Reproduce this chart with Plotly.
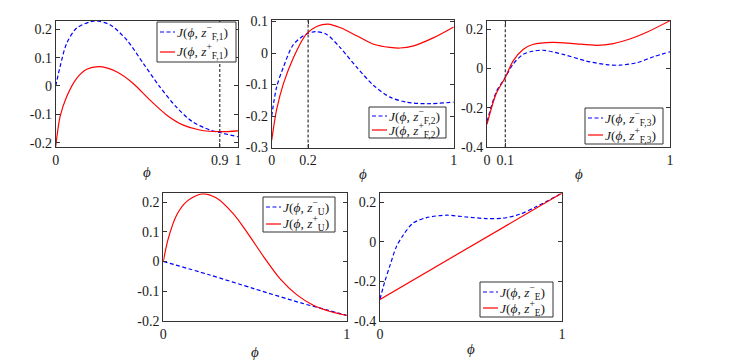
import plotly.graph_objects as go

# panel 1: z_F,1
phi1_minus = [0, 0.024, 0.06, 0.115, 0.215, 0.30, 0.39, 0.48, 0.57, 0.66, 0.75, 0.845, 0.9, 1.0]
J1_minus = [0, 0.068, 0.15, 0.204, 0.229, 0.215, 0.162, 0.08, -0.002, -0.073, -0.126, -0.155, -0.164, -0.179]
phi1_plus = [0, 0.024, 0.06, 0.115, 0.17, 0.243, 0.334, 0.425, 0.516, 0.608, 0.70, 0.79, 0.9, 1.0]
J1_plus = [-0.214, -0.108, -0.038, 0.027, 0.059, 0.068, 0.05, 0.009, -0.049, -0.102, -0.138, -0.155, -0.161, -0.158]

# panel 2: z_F,2
phi2_minus = [0, 0.027, 0.064, 0.12, 0.19, 0.24, 0.30, 0.375, 0.467, 0.56, 0.65, 0.74, 0.85, 1.0]
J2_minus = [-0.2, -0.108, -0.045, 0.028, 0.06, 0.068, 0.06, 0.018, -0.045, -0.103, -0.14, -0.156, -0.161, -0.156]
phi2_plus = [0, 0.027, 0.064, 0.12, 0.19, 0.25, 0.31, 0.375, 0.467, 0.56, 0.65, 0.705, 0.78, 0.89, 1.0]
J2_plus = [-0.277, -0.18, -0.098, -0.014, 0.06, 0.085, 0.092, 0.081, 0.055, 0.028, 0.018, 0.016, 0.023, 0.049, 0.083]

# panel 3: z_F,3
phi3_minus = [0, 0.05, 0.1, 0.142, 0.197, 0.25, 0.307, 0.416, 0.544, 0.653, 0.726, 0.82, 0.91, 1.0]
J3_minus = [-0.27, -0.12, -0.045, 0.022, 0.072, 0.088, 0.093, 0.072, 0.038, 0.02, 0.017, 0.03, 0.06, 0.085]
phi3_plus = [0, 0.05, 0.1, 0.142, 0.197, 0.25, 0.36, 0.47, 0.6, 0.69, 0.78, 0.87, 1.0]
J3_plus = [-0.283, -0.128, -0.045, 0.038, 0.097, 0.122, 0.133, 0.127, 0.118, 0.127, 0.15, 0.183, 0.243]

# panel 4: z_U
phi4_minus = [0, 0.25, 0.5, 0.75, 0.9, 1.0]
J4_minus = [0, -0.045, -0.093, -0.14, -0.165, -0.182]
phi4_plus = [0, 0.027, 0.073, 0.127, 0.21, 0.29, 0.38, 0.455, 0.545, 0.636, 0.727, 0.818, 0.91, 1.0]
J4_plus = [0, 0.077, 0.157, 0.202, 0.228, 0.214, 0.162, 0.1, 0.018, -0.058, -0.112, -0.148, -0.169, -0.182]

# panel 5: z_E
phi5_minus = [0, 0.027, 0.055, 0.09, 0.128, 0.18, 0.256, 0.366, 0.475, 0.585, 0.676, 0.768, 0.86, 1.0]
J5_minus = [-0.29, -0.2, -0.12, -0.025, 0.034, 0.093, 0.122, 0.134, 0.125, 0.117, 0.119, 0.139, 0.178, 0.246]
phi5_plus = [0, 1.0]
J5_plus = [-0.292, 0.246]

vlines = [0.9, 0.2, 0.1, None, None]
xticks = [[0, 0.9, 1], [0, 0.2, 1], [0, 0.1, 1], [0, 1], [0, 1]]
yticks = [[-0.2, -0.1, 0, 0.1, 0.2], [-0.3, -0.2, -0.1, 0, 0.1], [-0.4, -0.2, 0, 0.2],
          [-0.2, -0.1, 0, 0.1, 0.2], [-0.4, -0.2, 0, 0.2]]
yranges = [[-0.215, 0.23], [-0.3, 0.105], [-0.4, 0.243], [-0.2, 0.23], [-0.4, 0.245]]
subs = ["F,1", "F,2", "F,3", "U", "E"]

series = [(phi1_minus, J1_minus, phi1_plus, J1_plus),
          (phi2_minus, J2_minus, phi2_plus, J2_plus),
          (phi3_minus, J3_minus, phi3_plus, J3_plus),
          (phi4_minus, J4_minus, phi4_plus, J4_plus),
          (phi5_minus, J5_minus, phi5_plus, J5_plus)]

W, H = 734, 361
# panel boxes in pixels: left, right, top, bottom
boxes = [(55.7, 238, 20.7, 147), (271.7, 453.7, 20, 147.5), (487, 670, 20.7, 147.3),
         (163.3, 346.7, 193.3, 320.7), (380, 562, 193.3, 320.7)]
# legend boxes in pixels: left, right, top, bottom, row1 y, row2 y
legbox = [(157, 236, 22, 62, 32, 52), (369, 446, 107, 138, 116, 130),
          (585, 663, 108, 144, 118, 135), (263, 335, 197, 232, 207, 224),
          (480, 553, 282, 317, 292, 308)]
labely = [-0.2, -0.21, -0.21, -0.245, -0.22]

font = "Liberation Serif, DejaVu Serif, serif"
axc = "#333333"
txt = "#1a1a1a"
blue = "#0000ff"
red = "#ff0000"
dash = "4px,2.5px"


def px(x):
    return x / W


def py(y):
    return 1 - y / H


fig = go.Figure()
layout = {}

for i, (xm, ym, xp, yp) in enumerate(series):
    n = "" if i == 0 else str(i + 1)
    lab = "<i>J</i>(<i>ϕ</i>, <i>z</i><sup>{}</sup><sub>{}</sub>)"
    fig.add_trace(go.Scatter(x=xm, y=ym, mode="lines", xaxis="x" + n, yaxis="y" + n,
                             line=dict(color=blue, width=1.2, dash=dash,
                                       shape="spline", smoothing=0.8),
                             name=lab.format("−", subs[i]), showlegend=False))
    fig.add_trace(go.Scatter(x=xp, y=yp, mode="lines", xaxis="x" + n, yaxis="y" + n,
                             line=dict(color=red, width=1.2, shape="spline", smoothing=0.8),
                             name=lab.format("+", subs[i]), showlegend=False))
    l, r, t, b = boxes[i]
    common = dict(showline=True, linecolor=axc, linewidth=1, mirror="ticks",
                  ticks="inside", ticklen=4, tickcolor=axc, showgrid=False,
                  zeroline=False, automargin=False, tickfont=dict(size=14, color=txt))
    layout["xaxis" + n] = dict(domain=[px(l), px(r)], anchor="y" + n, range=[0, 1],
                               tickvals=xticks[i], ticktext=[str(v) for v in xticks[i]],
                               **common)
    layout["yaxis" + n] = dict(domain=[py(b), py(t)], anchor="x" + n, range=yranges[i],
                               tickvals=yticks[i], ticktext=["%g" % v for v in yticks[i]],
                               **common)
    fig.add_annotation(text="<i>ϕ</i>", xref="x" + n + " domain", yref="y" + n + " domain",
                       x=0.5, y=labely[i], showarrow=False, yanchor="middle",
                       font=dict(family=font, size=15, color=txt))
    if vlines[i] is not None:
        fig.add_shape(type="line", xref="x" + n, yref="y" + n + " domain",
                      x0=vlines[i], x1=vlines[i], y0=0, y1=1,
                      line=dict(color="#333333", width=1.2, dash="3px,2px"))

    # legend box
    ll, lr, lt, lb, r1, r2 = legbox[i]
    fig.add_shape(type="rect", xref="paper", yref="paper", x0=px(ll), x1=px(lr),
                  y0=py(lb), y1=py(lt), fillcolor="white", line=dict(color=axc, width=1),
                  layer="above")
    for ry, col, d, sign in [(r1, blue, dash, "−"), (r2, red, "solid", "+")]:
        fig.add_shape(type="line", xref="paper", yref="paper", x0=px(ll + 3), x1=px(ll + 18),
                      y0=py(ry), y1=py(ry), line=dict(color=col, width=1.2, dash=d),
                      layer="above")
        fig.add_annotation(text=lab.format(sign, subs[i]), xref="paper", yref="paper",
                           x=px(ll + 18), y=py(ry), xanchor="left", yanchor="middle",
                           showarrow=False, font=dict(family=font, size=13.5, color=txt))

fig.update_layout(width=W, height=H, margin=dict(l=0, r=0, t=0, b=0),
                  paper_bgcolor="white", plot_bgcolor="white", showlegend=False,
                  font=dict(family=font, size=14, color=txt), **layout)

fig.write_html("out.html", config={"displayModeBar": False},
               post_script="document.body.style.margin='0';")
